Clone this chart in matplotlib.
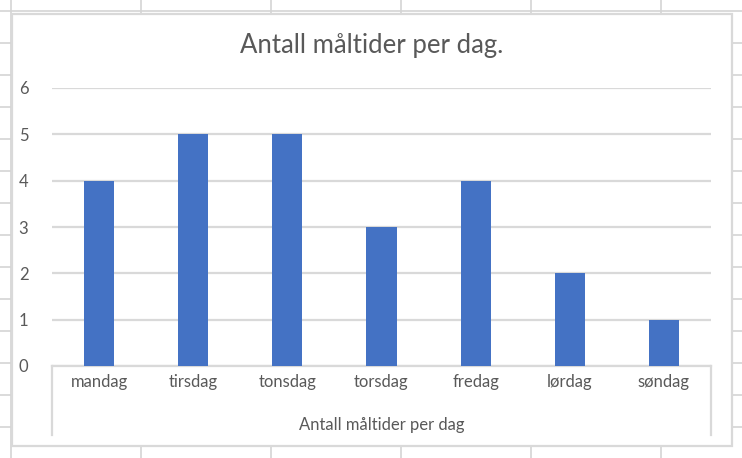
import matplotlib
matplotlib.use("Agg")
import matplotlib.pyplot as plt
from matplotlib.lines import Line2D
from matplotlib.patches import Rectangle

# data
days = ["mandag", "tirsdag", "tonsdag", "torsdag", "fredag", "lørdag", "søndag"]
meals = [4, 5, 5, 3, 4, 2, 1]
y_ticks = [0, 1, 2, 3, 4, 5, 6]

W, H = 742, 458
plt.rcParams["font.family"] = ["Lato", "DejaVu Sans"]
text_col = "#595959"
grid_col = "#D9D9D9"
sheet_col = "#D4D4D4"


def fx(px):
    return px / W


def fy(py):
    return 1 - py / H


def main():
    fig = plt.figure(figsize=(W / 100, H / 100), dpi=100)

    # spreadsheet cells behind the chart
    for y in range(11, 460, 32):
        fig.add_artist(Line2D([0, 1], [fy(y), fy(y)], color=sheet_col, lw=1.2, zorder=0))
    for x in [11, 141, 271, 401, 531, 661]:
        fig.add_artist(Line2D([fx(x), fx(x)], [0, 1], color=sheet_col, lw=1.2, zorder=0))

    # chart area
    fig.add_artist(Rectangle((fx(12), fy(446)), fx(732) - fx(12), fy(14) - fy(446),
                             transform=fig.transFigure, facecolor="white",
                             edgecolor=grid_col, lw=1.6, zorder=1))

    ax = fig.add_axes([fx(52), fy(366), fx(711) - fx(52), fy(88) - fy(366)], zorder=2)
    ax.patch.set_alpha(0)
    x = range(len(days))
    ax.bar(x, meals, width=0.32, color="#4472C4", zorder=3)
    ax.set_xlim(-0.5, len(days) - 0.5)
    ax.set_ylim(0, 6)
    ax.set_yticks(y_ticks)
    ax.yaxis.grid(True, color=grid_col, lw=1.6)
    ax.set_axisbelow(True)
    for s in ["top", "left", "right"]:
        ax.spines[s].set_visible(False)
    ax.spines["bottom"].set_color(grid_col)
    ax.spines["bottom"].set_linewidth(1.6)
    ax.tick_params(axis="y", length=0, pad=17, labelsize=12, labelcolor=text_col)
    ax.tick_params(axis="x", length=0, pad=6, labelsize=12, labelcolor=text_col)
    ax.set_xticks(list(x))
    ax.set_xticklabels(days)

    # category axis box
    for px in [52, 711]:
        fig.add_artist(Line2D([fx(px), fx(px)], [fy(366), fy(435)], color=grid_col, lw=1.6, zorder=3))
    fig.text(fx(381.5), fy(425), "Antall måltider per dag", ha="center", va="center",
             fontsize=12, color=text_col, zorder=4)

    fig.text(fx(372), fy(46), "Antall måltider per dag.", ha="center", va="center",
             fontsize=18.5, color=text_col, zorder=4)

    plt.savefig("out.png", dpi=100)
    plt.close()


if __name__ == "__main__":
    main()
